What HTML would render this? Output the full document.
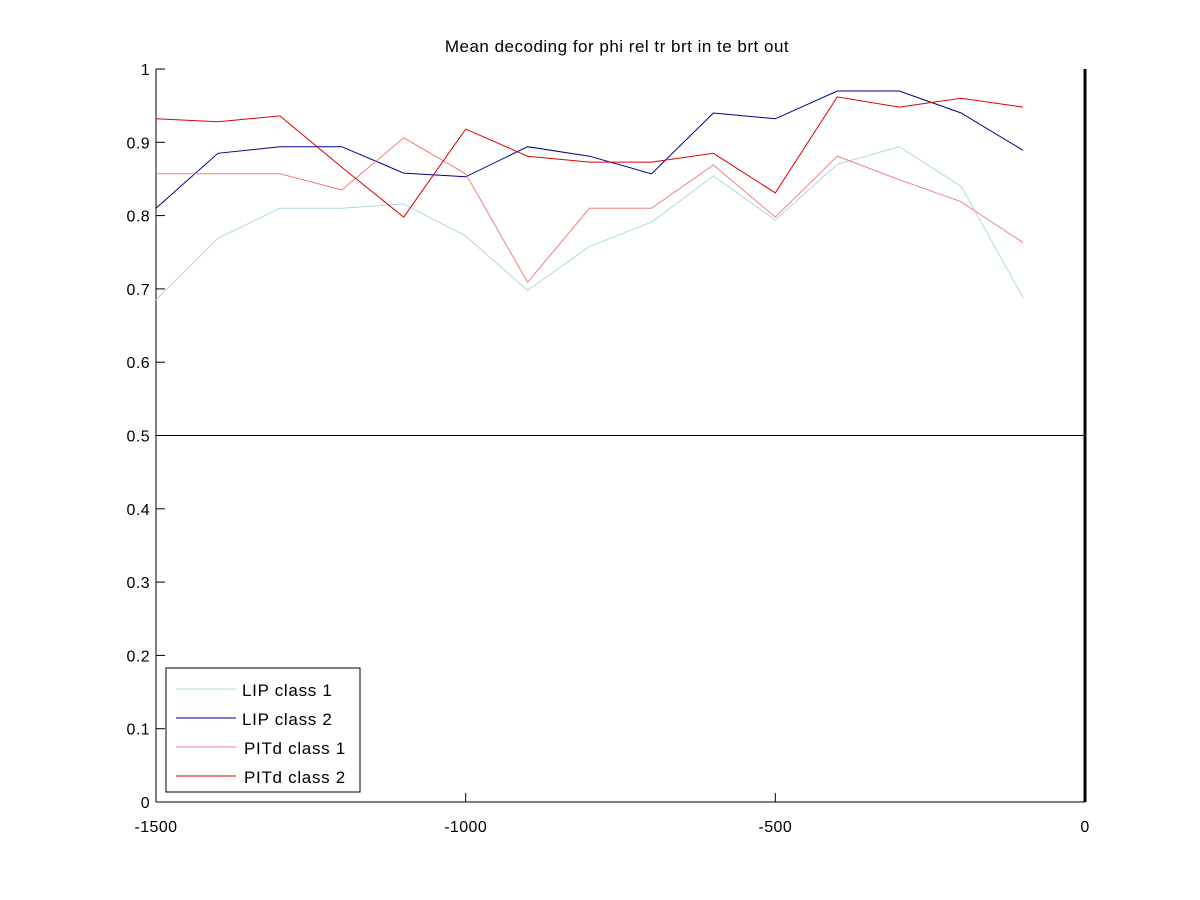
<!DOCTYPE html>
<html><head><meta charset="utf-8"><style>
html,body{margin:0;padding:0;background:#fff;}
svg{display:block;font-family:"Liberation Sans",sans-serif;}
</style></head><body>
<svg id="chart" width="1200" height="900" viewBox="0 0 1200 900">
<rect x="0" y="0" width="1200" height="900" fill="#fff"/>
<text x="617" y="52" font-size="17" letter-spacing="0.5" text-anchor="middle">Mean decoding for phi rel tr brt in te brt out</text>
<g id="plot"></g>
</svg>
<script>
const xTicks = [-1500, -1000, -500, 0];
const yTicks = [0, 0.1, 0.2, 0.3, 0.4, 0.5, 0.6, 0.7, 0.8, 0.9, 1];
const times = [-1500,-1400,-1300,-1200,-1100,-1000,-900,-800,-700,-600,-500,-400,-300,-200,-100];
const lipClass1 = [0.685,0.769,0.810,0.810,0.816,0.772,0.698,0.758,0.791,0.854,0.794,0.870,0.894,0.840,0.688];
const lipClass2 = [0.810,0.885,0.894,0.894,0.858,0.853,0.894,0.881,0.857,0.940,0.932,0.970,0.970,0.940,0.889];
const pitdClass1 = [0.857,0.857,0.857,0.835,0.906,0.857,0.709,0.810,0.810,0.869,0.798,0.881,0.849,0.819,0.763];
const pitdClass2 = [0.932,0.928,0.936,0.866,0.798,0.918,0.881,0.873,0.873,0.885,0.831,0.962,0.948,0.960,0.948];
const seriesNames = ["LIP class 1","LIP class 2","PITd class 1","PITd class 2"];

const X0=156, X1=1085, Y0=802, Y1=69;
const xs = v => X0 + (v - (-1500)) / 1500 * (X1 - X0);
const ys = v => Y0 - v * (Y0 - Y1);
const NS="http://www.w3.org/2000/svg";
const g=document.getElementById('plot');
function mk(tag, attrs){const e=document.createElementNS(NS,tag);for(const k in attrs)e.setAttribute(k,attrs[k]);g.appendChild(e);return e;}

let e;
e=mk('line',{x1:X0,y1:Y1,x2:X0,y2:Y0,stroke:'#000','stroke-width':1});


e=mk('line',{x1:X0,y1:Y0,x2:X1,y2:Y0,stroke:'#000','stroke-width':1});



yTicks.forEach(t=>{
  const y=ys(t);
  let l=mk('line',{x1:X0,y1:y,x2:X0+9,y2:y,stroke:'#000'});
  
  
  let tx=mk('text',{x:X0-6,y:y+6,'font-size':16,'letter-spacing':0.4,'text-anchor':'end'});
  tx.textContent=String(t);
  
  
});
xTicks.forEach(t=>{
  const x=xs(t);
  let l=mk('line',{x1:x,y1:Y0,x2:x,y2:Y0-9,stroke:'#000'});
  
  
  let tx=mk('text',{x:x,y:Y0+30,'font-size':16,'letter-spacing':0.4,'text-anchor':'middle'});
  tx.textContent=String(t);
  
  
});

e=mk('line',{x1:X0,y1:ys(0.5),x2:X1,y2:ys(0.5),stroke:'#000','stroke-width':1});


e=mk('line',{x1:xs(0),y1:Y1,x2:xs(0),y2:Y0,stroke:'#000','stroke-width':3});



const allSeries=[lipClass1,lipClass2,pitdClass1,pitdClass2];
const colors=['#add8e6','#00008b','#f08080','#dd0000'];
const names=['lip-class-1-line','lip-class-2-line','pitd-class-1-line','pitd-class-2-line'];
allSeries.forEach((s,i)=>{
  const pts=s.map((v,j)=>xs(times[j]).toFixed(1)+','+ys(v).toFixed(1)).join(' ');
  let p=mk('polyline',{points:pts,fill:'none',stroke:colors[i],'stroke-width':1});
  
  
});

e=mk('rect',{x:166,y:668,width:194,height:124,fill:'#fff',stroke:'#000'});


const ly=[689,718,747,776];
const lx=[242,242,244,244];
seriesNames.forEach((n,i)=>{
  let l=mk('line',{x1:176,y1:ly[i],x2:236,y2:ly[i],stroke:colors[i]});
  
  
  let t=mk('text',{x:lx[i],y:ly[i]+7,'font-size':17,'letter-spacing':0.7});
  t.textContent=n;
  
  
});
</script>
</body></html>
